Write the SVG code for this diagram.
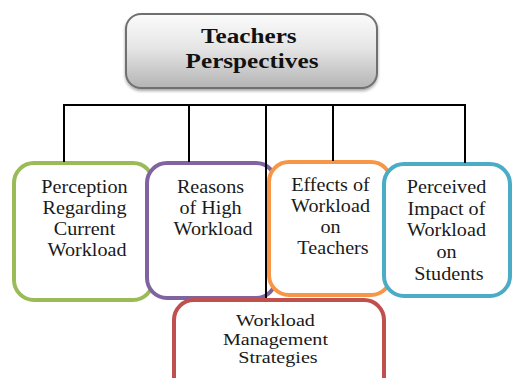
<svg xmlns="http://www.w3.org/2000/svg" width="513" height="378" viewBox="0 0 513 378">
  <defs>
    <linearGradient id="titleFill" x1="0" y1="0" x2="0" y2="1">
      <stop offset="0" stop-color="#fbfbfb"/>
      <stop offset="0.45" stop-color="#e6e6e6"/>
      <stop offset="1" stop-color="#b4b4b4"/>
    </linearGradient>
    <filter id="shadow" x="-10%" y="-10%" width="120%" height="130%">
      <feDropShadow dx="0" dy="2" stdDeviation="1.5" flood-color="#000" flood-opacity="0.35"/>
    </filter>
  </defs>
  <style>
    .box { fill: #ffffff; stroke-width: 4; }
    .label { font-size: 18px; fill: #1a1a1a; text-anchor: middle; }
    .title { font-size: 21px; font-weight: bold; fill: #111111; text-anchor: middle; }
    .link { stroke: #000000; stroke-width: 2; fill: none; }
  </style>

  <rect width="513" height="378" fill="#ffffff"/>

  <!-- root node -->
  <g id="teachers-perspectives">
    <rect x="126" y="14" width="251" height="74" rx="15" ry="15" fill="url(#titleFill)" stroke="#707070" stroke-width="2" filter="url(#shadow)"/>
    <text class="title" font-family="Liberation Serif, Times New Roman, DejaVu Serif, serif" transform="translate(252,0) scale(1.2,1)">
      <tspan x="0" y="43">Teachers</tspan>
      <tspan x="0" y="68">Perspectives</tspan>
    </text>
  </g>

  <!-- child nodes, later ones overlap earlier ones -->
  <g id="perception-current-workload">
    <rect class="box" x="14" y="163" width="139" height="137" rx="20" ry="20" stroke="#9bbb59"/>
    <text class="label" font-family="Liberation Serif, Times New Roman, DejaVu Serif, serif" transform="translate(87,0) scale(1.12,1)">
      <tspan x="0" y="193">Perception</tspan>
      <tspan x="0" y="214">Regarding</tspan>
      <tspan x="0" y="235">Current</tspan>
      <tspan x="0" y="256">Workload</tspan>
    </text>
  </g>

  <g id="reasons-high-workload">
    <rect class="box" x="147" y="163" width="129" height="135" rx="20" ry="20" stroke="#8064a2"/>
    <text class="label" font-family="Liberation Serif, Times New Roman, DejaVu Serif, serif" transform="translate(213,0) scale(1.12,1)">
      <tspan x="0" y="193">Reasons</tspan>
      <tspan x="0" y="214">of High</tspan>
      <tspan x="0" y="235">Workload</tspan>
    </text>
  </g>

  <g id="effects-on-teachers">
    <rect class="box" x="269" y="162" width="122" height="133" rx="20" ry="20" stroke="#f79646"/>
    <text class="label" font-family="Liberation Serif, Times New Roman, DejaVu Serif, serif" transform="translate(333,0) scale(1.12,1)">
      <tspan x="0" y="191">Effects of</tspan>
      <tspan x="0" y="212">Workload</tspan>
      <tspan x="0" y="233">on</tspan>
      <tspan x="0" y="254">Teachers</tspan>
    </text>
  </g>

  <g id="impact-on-students">
    <rect class="box" x="384" y="164" width="126" height="132" rx="20" ry="20" stroke="#4bacc6"/>
    <text class="label" font-family="Liberation Serif, Times New Roman, DejaVu Serif, serif" transform="translate(449,0) scale(1.12,1)">
      <tspan x="0" y="193">Perceived</tspan>
      <tspan x="0" y="215">Impact of</tspan>
      <tspan x="0" y="236">Workload</tspan>
      <tspan x="0" y="258">on</tspan>
      <tspan x="0" y="280">Students</tspan>
    </text>
  </g>

  <g id="connectors">
    <path class="link" d="M64 105 H466"/>
    <path class="link" d="M64 104 V162"/>
    <path class="link" d="M189 105 V162"/>
    <path class="link" d="M266 105 V300"/>
    <path class="link" d="M333 105 V161"/>
    <path class="link" d="M465 104 V163"/>
  </g>

  <g id="workload-management-strategies">
    <rect class="box" x="174" y="300" width="210" height="100" rx="20" ry="20" stroke="#c0504d"/>
    <text class="label" font-family="Liberation Serif, Times New Roman, DejaVu Serif, serif" style="font-size:16.5px" transform="translate(278,0) scale(1.22,1)">
      <tspan x="0" y="326">Workload</tspan>
      <tspan x="0" y="345">Management</tspan>
      <tspan x="0" y="363">Strategies</tspan>
    </text>
  </g>
</svg>
